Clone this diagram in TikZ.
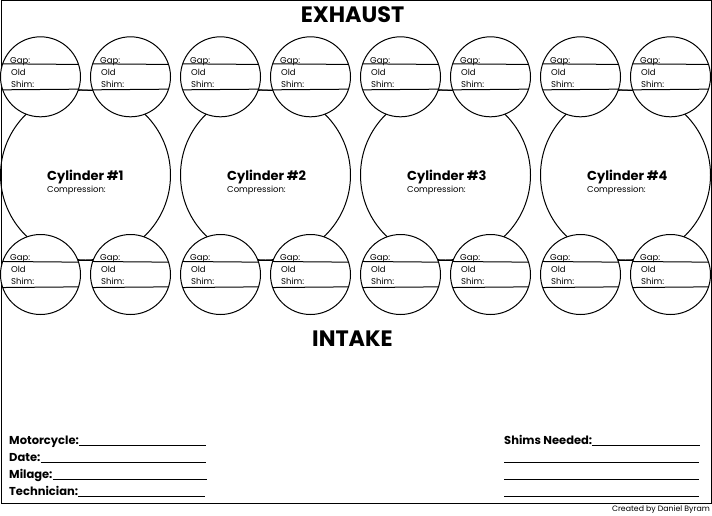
\documentclass[tikz,border=0pt]{standalone}
\usepackage{fontspec}
\setmainfont{Poppins}
\tikzset{
  valve/.style={draw,circle,fill=white,line width=1pt,inner sep=0pt,outer sep=0pt,minimum size=80pt},
  bore/.style={draw,circle,line width=1pt,inner sep=0pt,outer sep=0pt,minimum size=170pt},
  rule/.style={line width=1pt},
  tiny/.style={anchor=base west,inner sep=0pt,font=\fontsize{8.5}{10}\selectfont},
  field/.style={anchor=base west,inner sep=0pt,font=\fontsize{11.5}{13}\selectfont\bfseries},
  head/.style={inner sep=0pt,font=\fontsize{22.3}{26}\selectfont\bfseries}
}
\newcommand{\valvecircle}[3]{
  \node [valve] (#1) at (#2,#3) {};
  \draw [rule] (#1.161.8) -- (#1.18.2);
  \draw [rule] (#1.-161.8) -- (#1.-18.2);
  \node [tiny] (#1gap) at (#2-30.5,#3-13.8) {Gap:};
  \node [tiny] (#1old) at (#2-29.5,#3-1.8) {Old};
  \node [tiny] (#1shim) at (#2-29.5,#3+10.2) {Shim:};
}
\begin{document}
\begin{tikzpicture}[x=1pt,y=-1pt]
  \useasboundingbox (0,0) rectangle (712,515);
  \draw [rule] (1,0.5) rectangle (711,503);
  \node [head] (exhaust) at (352.5,15) {EXHAUST};
  \node [head] (intake) at (352.5,339) {INTAKE};
  % cylinders and their valves
  \foreach \n/\x in {1/85.5,2/265.5,3/445.5,4/625.5} {
    \node [bore] (bore\n) at (\x,175) {};
    \node [anchor=base west,inner sep=0pt,font=\fontsize{13}{15}\selectfont\bfseries] (cyl\n) at (\x-38.5,180) {Cylinder \#\n};
    \node [tiny] (comp\n) at (\x-38.5,192.5) {Compression:};
    \valvecircle{ea\n}{\x-45}{76.8}
    \valvecircle{eb\n}{\x+45}{76.8}
    \valvecircle{ia\n}{\x-45}{274.5}
    \valvecircle{ib\n}{\x+45}{274.5}
    \draw [rule] (ea\n.-19.7) -- (eb\n.-160.3);
    \draw [rule] (ia\n.21) -- (ib\n.159);
  }
  % form fields
  \node [field] (motor) at (9,444) {Motorcycle:};
  \node [field] (date) at (9,461) {Date:};
  \node [field] (milage) at (9,478) {Milage:};
  \node [field] (tech) at (9,495) {Technician:};
  \node [field] (shims) at (504,444) {Shims Needed:};
  \coordinate (motorend) at (206,445.5);
  \coordinate (dateend) at (206,462.5);
  \coordinate (milageend) at (207,479.5);
  \coordinate (techend) at (205,496.5);
  \coordinate (shimsend) at (700,445.5);
  \coordinate (sa) at (504,462.5);
  \coordinate (saend) at (699,462.5);
  \coordinate (sb) at (504,479.5);
  \coordinate (sbend) at (699,479.5);
  \coordinate (sc) at (504,496.5);
  \coordinate (scend) at (699,496.5);
  \draw [rule] (motor.east |- motorend) -- (motorend);
  \draw [rule] (date.east |- dateend) -- (dateend);
  \draw [rule] (milage.east |- milageend) -- (milageend);
  \draw [rule] (tech.east |- techend) -- (techend);
  \draw [rule] (shims.east |- shimsend) -- (shimsend);
  \draw [rule] (sa) -- (saend);
  \draw [rule] (sb) -- (sbend);
  \draw [rule] (sc) -- (scend);
  \node [inner sep=0pt,anchor=base east,font=\fontsize{7.8}{9}\selectfont] (credit) at (710,511) {Created by Daniel Byram};
\end{tikzpicture}
\end{document}
